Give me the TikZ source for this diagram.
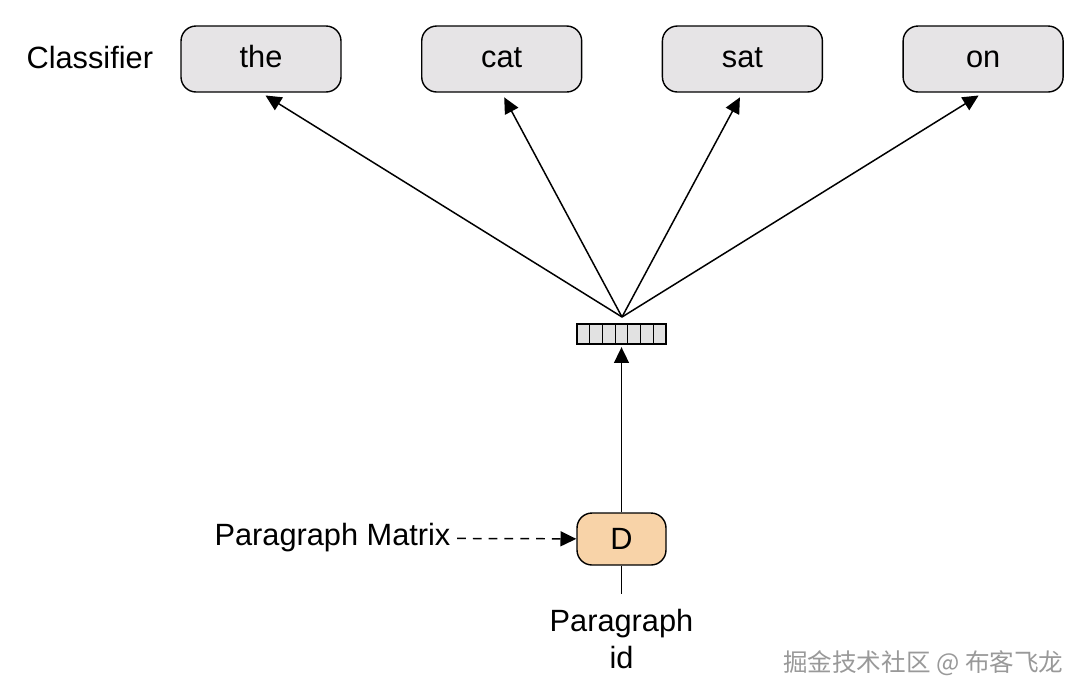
\documentclass[tikz,border=0pt]{standalone}
\usepackage{fontspec}
\setmainfont{Liberation Sans}
\newfontfamily\cjk{Noto Sans CJK SC}
\usepackage{xcolor}
\usepackage{tikz}
\usetikzlibrary{positioning, arrows.meta, calc}

\definecolor{wordgray}{HTML}{E6E4E6}
\definecolor{dorange}{HTML}{F8D3A8}
\definecolor{cellgray}{HTML}{E2E2E2}

\tikzset{
  word/.style={draw, line width=0.8pt, fill=wordgray, rounded corners=0.3cm,
    minimum width=3.2cm, minimum height=1.32cm, text height=2.05ex, text depth=0.3ex},
  dbox/.style={draw, line width=0.8pt, fill=dorange, rounded corners=0.3cm,
    minimum width=1.78cm, minimum height=1.04cm},
  vecbox/.style={draw, line width=0.6pt, fill=cellgray,
    minimum width=1.78cm, minimum height=0.4cm, inner sep=0pt},
}

\begin{document}
\begin{tikzpicture}[x=0.02cm, y=-0.02cm, font=\fontsize{17.5}{21.5}\selectfont,
    >={Triangle[length=9pt,width=8.5pt]}, line width=0.85pt]
  \useasboundingbox (0,0) rectangle (1088,698);
  \node[anchor=west] (clf) at (20,58) {Classifier};
  \foreach \i/\val in {0/the, 1/cat, 2/sat, 3/on} {
    \node[word] (w\i) at (261+240.7*\i,59) {\val};
  }
  % embedding vector
  \node[vecbox] (vec) at (621.5,334) {};
  \foreach \k in {1,...,6} {
    \draw[line width=0.6pt] ($(vec.south west)!\k/7!(vec.south east)$) -- ($(vec.north west)!\k/7!(vec.north east)$);
  }
  \coordinate (hub) at (622,317);
  \foreach \i in {0,...,3} {
    \draw[->, shorten >=3pt] (hub) -- (w\i.south);
  }
  \node[dbox] (d) at (621.5,539) {D};
  \draw[->, shorten >=1.5pt] (d) -- (vec);
  \node[align=center, anchor=north, inner xsep=2pt, inner ysep=8pt] (pid) at (621.5,594) {Paragraph\\id};
  \draw (d.south) -- (pid.north);
  \node[anchor=east] (pm) at (457,538) {Paragraph Matrix};
  \draw[->, dash pattern=on 5pt off 4pt] (pm) -- (d);
  \node[anchor=east, text=gray!80, font=\fontsize{14}{16}\selectfont] (wm) at (1070,663) {\cjk 掘金技术社区 @ 布客飞龙};
\end{tikzpicture}
\end{document}
